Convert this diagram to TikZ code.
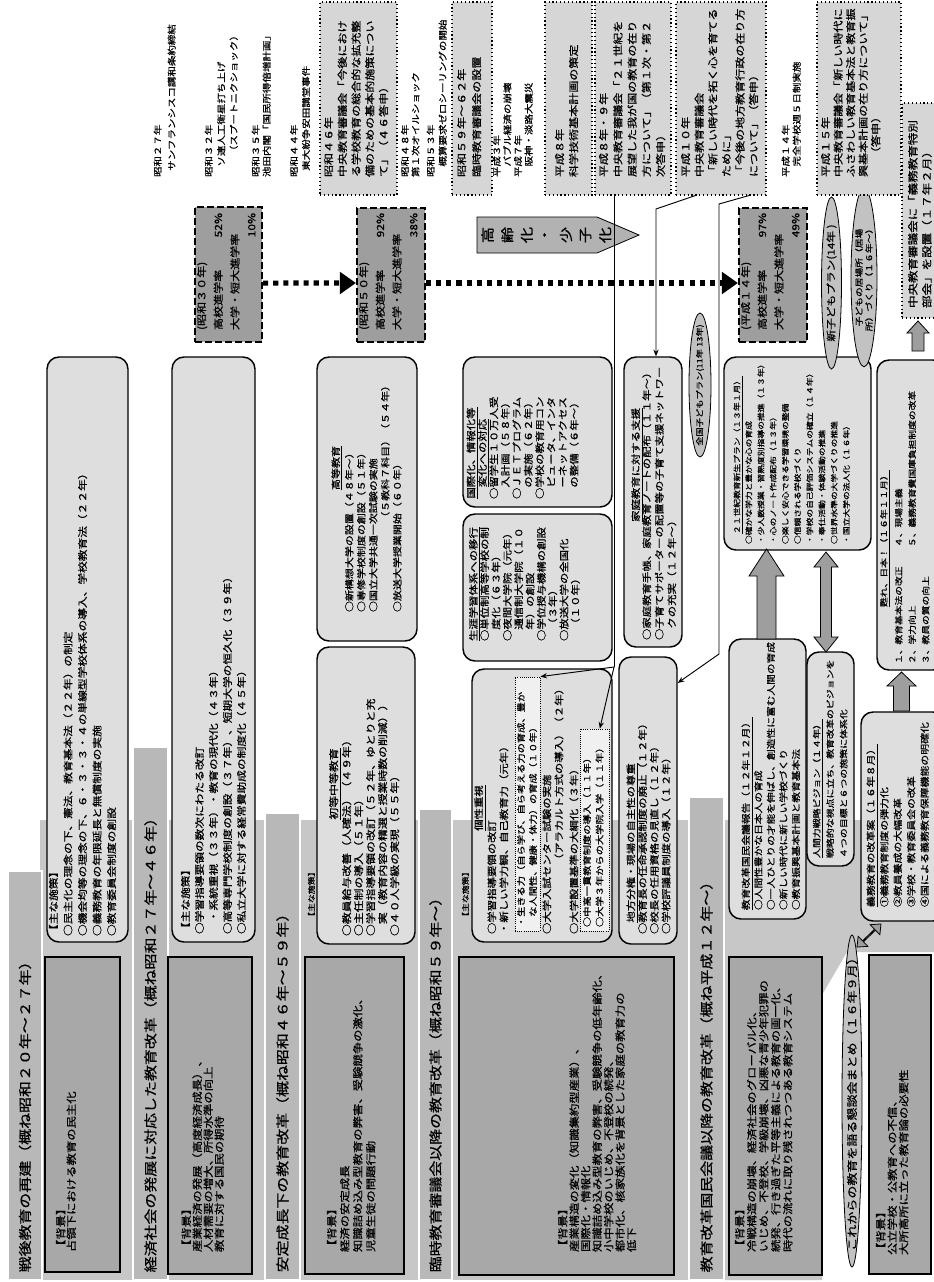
\documentclass[tikz,border=0pt]{standalone}
\usepackage{fontspec}
\setmainfont{Noto Sans CJK JP}[FakeBold=0.6]
\usetikzlibrary{fit,shapes.geometric,shapes.arrows,arrows.meta}
\definecolor{regiong}{gray}{0.78}
\definecolor{barg}{gray}{0.72}
\definecolor{bgg}{gray}{0.66}
\definecolor{boxg}{gray}{0.87}
\definecolor{evg}{gray}{0.84}
\definecolor{statg}{gray}{0.62}
\definecolor{ellg}{gray}{0.76}
\definecolor{fatg}{gray}{0.62}
\definecolor{hlg}{gray}{0.94}
\definecolor{pentg}{gray}{0.70}
\newcommand{\fz}[2]{\fontsize{#1pt}{#2pt}\selectfont}
% fat arrow pointing up: x, ytip, ybase, shaft half width, head half width, head length
\newcommand{\fatup}[6]{\filldraw[fill=fatg,draw=black,line width=0.6pt] ({#1-#4},#3) -- ({#1-#4},{#2+#6}) -- ({#1-#5},{#2+#6}) -- (#1,#2) -- ({#1+#5},{#2+#6}) -- ({#1+#4},{#2+#6}) -- ({#1+#4},#3) -- cycle;}
% fat double arrow, vertical: x, ytop, ybottom, shaft half width, head half width, head length
\newcommand{\fatupdown}[6]{\filldraw[fill=fatg,draw=black,line width=0.6pt] (#1,#2) -- ({#1+#5},{#2+#6}) -- ({#1+#4},{#2+#6}) -- ({#1+#4},{#3-#6}) -- ({#1+#5},{#3-#6}) -- (#1,#3) -- ({#1-#5},{#3-#6}) -- ({#1-#4},{#3-#6}) -- ({#1-#4},{#2+#6}) -- ({#1-#5},{#2+#6}) -- cycle;}
\begin{document}
\begin{tikzpicture}[x=0.75pt,y=-0.75pt,
  txt/.style={rotate=90,xscale=1.22,anchor=north west,inner sep=0pt,outer sep=0pt,align=left},
  ctxt/.style={rotate=90,xscale=1.22,anchor=center,inner sep=0pt,outer sep=0pt,align=center},
  titlebar/.style={draw=black,line width=0.5pt,double=white,double distance=1.1pt,fill=barg,inner sep=0pt},
  bgbox/.style={draw=black,line width=0.9pt,fill=bgg,inner sep=0pt},
  sbox/.style={draw=black,line width=1.1pt,fill=boxg,rounded corners=9pt,inner sep=0pt},
  evbox/.style={draw=black,dotted,line width=0.9pt,fill=evg,inner sep=0pt},
  statbox/.style={draw=black,dash pattern=on 5pt off 2.5pt,line width=1.6pt,fill=statg,inner sep=0pt},
  hlbox/.style={draw=black,densely dotted,line width=0.6pt,fill=hlg,inner sep=0pt},
  ell/.style={ellipse,draw=black,line width=0.6pt,fill=ellg,inner sep=0pt},
  conn/.style={draw=black,line width=0.7pt,-{Stealth[length=5pt,width=4pt]}},
  cline/.style={draw=black,line width=0.7pt},
  statarrow/.style={line width=3.8pt,dash pattern=on 3.8pt off 3.8pt,-{Triangle[length=12pt,width=16pt]}},
  fatdouble/.style={double arrow,draw=black,line width=0.6pt,fill=fatg,inner sep=0pt,double arrow tip angle=80},
]
\useasboundingbox (0,0) rectangle (934,1282);
\fill[white] (0,0) rectangle (934,1282);

% ---------- era regions ----------
\fill[regiong] (40,820) rectangle (133,1280);
\fill[regiong] (168,820) rectangle (265,1280);
\fill[regiong] (300,820) rectangle (419,1280);
\fill[regiong] (452,820) rectangle (689,1280);
\fill[regiong] (724,820) -- (934,820) -- (934,952) -- (847,952) -- (822,995) -- (822,1280) -- (724,1280) -- cycle;

% ---------- title bars ----------
\node[titlebar,fit={(8,871)(42,1280)}] (t1) {};
\node[titlebar,fit={(133,747)(168,1280)}] (t2) {};
\node[titlebar,fit={(265,813)(300,1280)}] (t3) {};
\node[titlebar,fit={(419,809)(452,1280)}] (t4) {};
\node[titlebar,fit={(689,797)(724,1280)}] (t5) {};
\node[txt,anchor=west,font=\fz{9.8}{11}] at ([yshift=6pt]t1.south) {戦後教育の再建（概ね昭和２０年～２７年）};
\node[txt,anchor=west,font=\fz{9.8}{11}] at ([yshift=6pt]t2.south) {経済社会の発展に対応した教育改革（概ね昭和２７年～４６年）};
\node[txt,anchor=west,font=\fz{9.8}{11}] at ([yshift=6pt]t3.south) {安定成長下の教育改革（概ね昭和４６年～５９年）};
\node[txt,anchor=west,font=\fz{9.8}{11}] at ([yshift=6pt]t4.south) {臨時教育審議会以降の教育改革（概ね昭和５９年～）};
\node[txt,anchor=west,font=\fz{9.8}{11}] at ([yshift=6pt]t5.south) {教育改革国民会議以降の教育改革（概ね平成１２年～）};

% ---------- background boxes ----------
\node[bgbox,fit={(45,957)(120,1272)}] (b1) {};
\node[bgbox,fit={(168,957)(252,1274)}] (b2) {};
\node[bgbox,fit={(305,957)(404,1274)}] (b3) {};
\node[bgbox,fit={(459,957)(674,1275)}] (b4) {};
\node[bgbox,fit={(729,957)(822,1275)}] (b5) {};
\node[bgbox,fit={(869,955)(931,1274)}] (b6) {};
\node[txt,font=\fz{7.6}{7.9}] at (56,1252) {【背景】\\占領下における教育の民主化};
\node[txt,font=\fz{7.6}{8.25}] at (181.5,1252) {【背景】\\産業経済の発展（高度経済成長）、\\人材需要の増大、所得水準の向上\\教育に対する国民の期待};
\node[txt,font=\fz{7.6}{9.75}] at (327,1252) {【背景】\\経済の安定成長\\知識詰め込み型教育の弊害、受験競争の激化、\\児童生徒の問題行動};
\node[txt,font=\fz{7.6}{8.6}] at (558,1252) {【背景】\\産業構造の変化（知識集約型産業）、\\国際化・情報化\\知識詰め込み型教育の弊害、受験競争の低年齢化、\\小中学校のいじめ、不登校の続発、\\都市化、核家族化を背景とした家庭の教育力の\\低下};
\node[txt,font=\fz{7.6}{9}] at (735,1252) {【背景】\\冷戦構造の崩壊、経済社会のグローバル化、\\いじめ、不登校、学級崩壊、凶悪な青少年犯罪の\\続発、行き過ぎた平等主義による教育の画一化、\\時代の流れに取り残されつつある教育システム};
\node[txt,font=\fz{7.6}{8.6}] at (876,1255) {【背景】\\公立学校・公教育への不信、\\大所高所に立った教育論の必要性};

% ---------- era 1 / era 2 measures ----------
\node[sbox,fit={(47,357)(128,942)}] (p1) {};
\node[txt,font=\fz{7.2}{10.9}] at (49,936) {【主な施策】\\○民主化の理念の下、憲法、教育基本法（２２年）の制定\\○機会均等の理念の下、６・３・３・４の単線型学校体系の導入、学校教育法（２２年）\\○義務教育の年限延長と無償制度の実施\\○教育委員会制度の創設};
\node[sbox,fit={(172,357)(255,942)}] (p2) {};
\node[txt,font=\fz{7.2}{10.5}] at (181,934) {【主な施策】\\○学習指導要領の数次にわたる改訂\\　・系統重視（３３年）・教育の現代化（４３年）\\○高等専門学校制度の創設（３７年）、短期大学の恒久化（３９年）\\○私立大学に対する経常費助成の制度化（４５年）};

% ---------- era 3 measures ----------
\node[txt,font=\fz{5.5}{6}] at (308,921) {【主な施策】};
\node[sbox,fit={(317,357)(417,641)}] (p3a) {};
\node[ctxt,font=\fz{6.75}{9}] at (337,468) {\underline{高等教育}};
\node[txt,font=\fz{6.75}{9}] at (345,612) {○新構想大学の設置（４８年～）\\○専修学校制度の創設（５１年）\\○国立大学共通一次試験の実施\\\mbox{}\\○放送大学授業開始（６０年）};
\node[txt,anchor=north east,font=\fz{6.75}{9}] at (381,380) {（５教科７科目）（５４年）};
\node[sbox,fit={(317,647)(415,944)}] (p3b) {};
\node[ctxt,font=\fz{7.3}{9}] at (335,784) {\underline{初等中等教育}};
\node[txt,font=\fz{7.3}{9}] at (342,936) {○教員給与改善（人確法）（４９年）\\○主任制の導入（５１年）\\○学習指導要領の改訂（５２年、ゆとりと充\\　実（教育内容の精選と授業時数の削減））\\○４０人学級の実現（５５年）};

% ---------- era 4 measures ----------
\node[txt,font=\fz{5.5}{6}] at (462,921) {【主な施策】};
\node[sbox,fit={(463,357)(612,507)}] (p4a) {};
\node[ctxt,font=\fz{7}{8.6}] at (478,453) {\underline{国際化、情報化等}\\\underline{変化への対応}};
\node[txt,font=\fz{7}{8.6}] at (489.5,499) {○留学生１０万人受\\　入計画（５８年）\\○ＪＥＴプログラム\\　の実施（６２年）\\○学校の教育用コン\\　ピュータ、インタ\\　ーネットアクセス\\　の整備（６年～）};
\node[sbox,fit={(463,514)(612,661)}] (p4b) {};
\node[txt,font=\fz{7}{8.5}] at (469,641) {\underline{生涯学習体系への移行}\\○単位制高等学校の制\\　度化（６３年）\\○夜間大学院（元年）\\　通信制大学院（１０\\　年）の創設\\○学位授与機構の創設\\　（３年）\\○放送大学の全国化\\　（１０年）};
\node[sbox,fit={(472,669)(612,942)}] (p4c) {};
\node[ctxt,font=\fz{7}{9}] at (480,808) {\underline{個性重視}};
\node[txt,font=\fz{7}{9}] at (487.5,934) {○学習指導要領の改訂\\・新しい学力観、自己教育力（元年）};
\node[hlbox,fit={(515,677)(540,931)}] (hlA) {};
\node[txt,font=\fz{6.3}{9}] at (517,927) {・生きる力（自ら学び、自ら考える力の育成、豊か\\　な人間性、健康・体力）の育成（１０年）};
\node[txt,font=\fz{7}{9}] at (542.5,934) {○大学入試センター試験の実施};
\node[txt,anchor=north east,font=\fz{7}{9}] at (554.5,683) {（アラカルト方式の導入）（２年）};
\node[txt,font=\fz{7}{9}] at (569.5,934) {○大学設置基準の大綱化（３年）};
\node[hlbox,fit={(580,729)(609,931)}] (hlB) {};
\node[txt,font=\fz{6.3}{9.4}] at (583,927) {○中高一貫教育制度の導入（１１年）\\○大学３年からの大学院入学（１１年）};
\node[sbox,fit={(619,657)(677,944)}] (chiho) {};
\node[txt,font=\fz{7}{8.8}] at (626.5,934) {\hspace*{1em}\underline{地方分権・現場の自主性の尊重}\\○教育長の任命承認制度の廃止（１２年）\\○校長の任用資格の見直し（１２年）\\○学校評議員制度の導入（１２年）};
\node[sbox,fit={(624,357)(682,647)}] (katei) {};
\node[ctxt,font=\fz{7}{9}] at (637,465) {\underline{家庭教育に対する支援}};
\node[txt,font=\fz{7}{9.4}] at (642.3,640) {○家庭教育手帳、家庭教育ノートの配布（１１年～）\\○子育てサポーターの配置等の子育て支援ネットワー\\　クの充実（１２年～）};
\node[ell,minimum width=16.5pt,minimum height=108pt] (zenkoku) at (700,385) {};
\node[ctxt,font=\fz{5.7}{6}] at (700,385) {全国子どもプラン(11年~13年)};

% ---------- era 5 measures ----------
\node[sbox,fit={(724,357)(871,550)}] (sec21) {};
\node[txt,font=\fz{5.4}{9}] at (733.5,534) {\underline{２１世紀教育新生プラン（１３年１月）}};
\node[txt,font=\fz{5.4}{9.15}] at (745.4,544) {○確かな学力と豊かな心の育成\\・少人数授業・習熟度別指導の推進（１３年）\\・心のノート作成配布（１３年）\\○楽しく安心できる学習環境の整備\\○信頼される学校づくり\\・学校の自己評価システムの確立（１４年）\\・奉仕活動・体験活動の推進\\○世界水準の大学づくりの推進\\・国立大学の法人化（１６年）};
\node[sbox,fit={(729,639)(806,919)}] (kokumin) {};
\node[txt,font=\fz{6.6}{9.4}] at (741.6,910) {\underline{教育改革国民会議報告（１２年１２月）}\\○人間性豊かな日本人の育成\\○一人ひとりの才能を伸ばし、創造性に富む人間の育成\\○新しい時代に新しい学校づくり\\○教育振興基本計画と教育基本法};
\node[sbox,fit={(807,652)(854,866)}] (ningen) {};
\node[txt,font=\fz{6.1}{10.1}] at (812.8,858) {\underline{人間力戦略ビジョン（１４年）}\\戦略的な視点に立ち、教育改革のビジョンを\\４つの目標と６つの施策に体系化};
\node[sbox,fit={(877,360)(945,670)}] (yomi) {};
\node[txt,font=\fz{6}{10}] at (880,607) {\underline{甦れ、日本！（１６年１１月）}};
\node[txt,font=\fz{6}{10.1}] at (895,664) {１、教育基本法の改正\\２、学力向上\\３、教員の質の向上};
\node[txt,font=\fz{6}{10.1}] at (895,547) {４、現場主義\\５、義務教育費国庫負担制度の改革};
\node[sbox,fit={(861,712)(945,921)}] (kaikaku) {};
\node[txt,font=\fz{6.7}{10.1}] at (866.5,907) {\underline{義務教育の改革案（１６年８月）}\\①義務教育制度の弾力化\\②教員養成の大幅改革\\③学校・教育委員会の改革\\④国による義務教育保障機能の明確化};
\node[ell,minimum width=15pt,minimum height=249pt] (korekara) at (852,1101) {};
\node[ctxt,font=\fz{8}{9}] at (852,1101) {これからの教育を語る懇談会まとめ（１６年９月）};
\node[ell,minimum width=15pt,minimum height=129pt] (shinkodomo) at (831.5,283) {};
\node[ctxt,font=\fz{7.2}{8}] at (831.5,283) {新子どもプラン(14年~)};
\node[ell,minimum width=19.5pt,minimum height=134pt] (ibasho) at (864,277.5) {};
\node[ctxt,font=\fz{6}{7.5}] at (864,277.5) {子どもの居場所（居場\\所）づくり（１６年～）};

% ---------- fat arrows ----------
\fatup{766.5}{549}{639}{9.5}{17.5}{27}
\fatupdown{826}{552}{652}{5.5}{12}{15}
\fatup{901.5}{672}{711}{8}{14.5}{14}
\fatup{918}{321}{351}{6}{11}{12}
\node[fatdouble,rotate=44,minimum height=25pt,minimum width=10.5pt,double arrow head extend=3pt] at (869,935.5) {};

% ---------- events (top) ----------
\node[txt,font=\fz{6.45}{10.5}] at (153.7,177) {昭和２７年\\\hspace*{0.6em}サンフランシスコ講和条約締結};
\node[txt,font=\fz{6.45}{9.4}] at (204.7,177) {昭和３２年\\\hspace*{1em}ソ連人工衛星打ち上げ\\\hspace*{2em}（スプートニクショック）};
\node[txt,font=\fz{6.45}{8.25}] at (251.7,177) {昭和３５年\\池田内閣「国民所得倍増計画」};
\node[txt,font=\fz{6.45}{9}] at (290,177) {昭和４４年\\\hspace*{0.6em}東大紛争安田講堂事件};
\node[evbox,fit={(320,2)(397,195)}] (e5) {};
\node[txt,font=\fz{7.4}{10.3}] at (324,177) {昭和４６年\\中央教育審議会「今後におけ\\る学校教育の総合的な拡充整\\備のための基本的施策につい\\て」（４６答申）};
\node[txt,font=\fz{6.45}{7.9}] at (401,177) {昭和４８年\\第１次オイルショック};
\node[txt,font=\fz{6.45}{9}] at (426.7,177) {昭和５３年\\\hspace*{1em}概算要求ゼロシーリングの開始};
\node[evbox,fit={(452,2)(492,195)}] (e8) {};
\node[txt,font=\fz{7.4}{11.25}] at (457,177) {昭和５９年～６２年\\臨時教育審議会の設置};
\node[txt,font=\fz{6.45}{8}] at (492.7,177) {平成３年\\\hspace*{1em}バブル経済の崩壊\\平成７年\\\hspace*{1em}阪神・淡路大震災};
\node[evbox,fit={(545,2)(592,195)}] (e10) {};
\node[txt,font=\fz{7.4}{10.5}] at (555,177) {平成８年\\科学技術基本計画の策定};
\node[evbox,fit={(595,2)(671,195)}] (e11) {};
\node[txt,font=\fz{7.4}{10.7}] at (599,177) {平成８年・９年\\中央教育審議会「２１世紀を\\展望した我が国の教育の在り\\方について」（第１次・第２\\次答申）};
\node[evbox,fit={(676,2)(766,195)}] (e12) {};
\node[txt,font=\fz{7.4}{10.2}] at (681,177) {平成１０年\\中央教育審議会\\「新しい時代を拓く心を育てる\\ために」\\「今後の地方教育行政の在り方\\について」（答申）};
\node[txt,font=\fz{6.45}{8.25}] at (781.7,177) {平成１４年\\\hspace*{1em}完全学校週５日制実施};
\node[evbox,fit={(817,2)(901,195)}] (e14) {};
\node[txt,font=\fz{7.4}{9.4}] at (821,177) {平成１５年\\中央教育審議会「新しい時代に\\ふさわしい教育基本法と教育振\\興基本計画の在り方について」\\\hspace*{1.5em}（答申）};
\node[evbox,fit={(902,103)(945,318)}] (bukai) {};
\node[txt,font=\fz{7.7}{10.5}] at (908,308) {中央教育審議会に「義務教育特別\\部会」を設置（１７年２月）};

% ---------- statistics ----------
\node[statbox,fit={(195,207)(262,342)}] (s1) {};
\node[statbox,fit={(357,208)(425,342)}] (s2) {};
\node[statbox,fit={(739,208)(807,342)}] (s3) {};
\node[txt,font=\fz{7.4}{12.5},text width=72pt] at (197,330) {(昭和３０年)\\高校進学率\hfill52\%\\大学・短大進学率\\\mbox{}\hfill10\%};
\node[txt,font=\fz{7.4}{12.5},text width=72pt] at (359,330) {(昭和５０年)\\高校進学率\hfill92\%\\大学・短大進学率\\\mbox{}\hfill38\%};
\node[txt,font=\fz{7.4}{12.5},text width=72pt] at (741,330) {(平成１４年)\\高校進学率\hfill97\%\\大学・短大進学率\\\mbox{}\hfill49\%};
\draw[statarrow] ([yshift=-6.4pt]s1.east) -- ([yshift=-6pt]s2.west);
\draw[statarrow] ([yshift=-6pt]s2.east) -- ([yshift=-6pt]s3.west);

% ---------- ageing arrow ----------
\filldraw[fill=pentg,draw=black,line width=0.6pt] (477,217) -- (597,217) -- (639,235) -- (597,253) -- (477,253) -- cycle;
\foreach \c [count=\i] in {高,齢,化,・,少,子,化} {\node[ctxt,font=\fz{10}{10}] at ({468+\i*19.6},235) {\c};}

% ---------- connectors ----------
\coordinate (b1) at (614,667);
\draw[cline] (e11.south -| b1) -- (b1);
\draw[conn] (b1) -- (hlA.north east);
\draw[conn] (b1) -- ([xshift=4pt]hlB.north);
\coordinate (k0) at (697,195);
\coordinate (k1) at (656,209);
\draw[conn] (k0) -- (k1) -- (k1 |- katei.north);
\coordinate (m0) at (751,195);
\coordinate (m1) at (719,204);
\coordinate (m2) at (719,654);
\draw[conn] (m0) -- (m1) -- (m2) -- ([yshift=-20pt]chiho.north east);
\end{tikzpicture}
\end{document}
